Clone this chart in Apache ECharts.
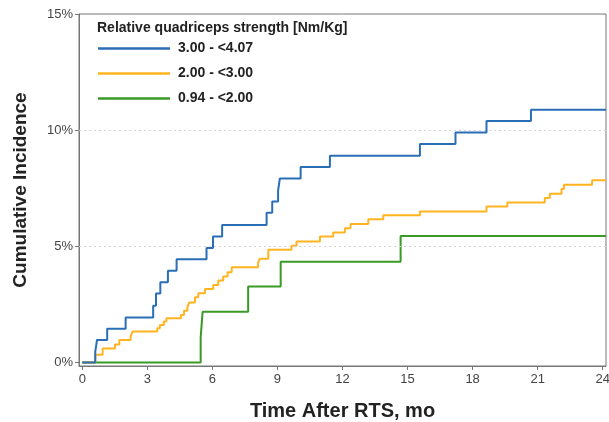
<!DOCTYPE html>
<html>
<head>
<meta charset="utf-8">
<script src="https://cdn.jsdelivr.net/npm/echarts@6/dist/echarts.min.js"></script>
<style>
html,body{margin:0;padding:0;background:#fff;}
#chart{width:609px;height:422px;}
</style>
</head>
<body>
<div id="chart"></div>
<script>
// Data (months after RTS, cumulative incidence %)
var seriesNames = ['3.00 - <4.07', '2.00 - <3.00', '0.94 - <2.00'];
var legendTitle = 'Relative quadriceps strength [Nm/Kg]';

var blueX = [0, 0.6, 0.68, 1.15, 2.0, 3.27, 3.4, 3.6, 3.95, 4.35, 5.73, 6.03, 6.45, 8.5, 8.76, 9.03, 9.11, 10.07, 11.42, 15.57, 17.21, 18.64, 20.69, 24.15];
var blueY = [0, 0.47, 0.97, 1.45, 1.94, 2.44, 2.97, 3.45, 3.95, 4.44, 4.93, 5.42, 5.92, 6.45, 6.93, 7.4, 7.92, 8.41, 8.9, 9.4, 9.9, 10.4, 10.88, 10.88];

var orangeX = [0, 0.6, 0.94, 1.51, 1.71, 2.23, 2.32, 3.46, 3.58, 3.76, 3.88, 4.55, 4.69, 4.85, 4.93, 5.2, 5.35, 5.66, 6.04, 6.27, 6.5, 6.7, 6.89, 8.11, 8.19, 8.58, 9.65, 9.88, 10.96, 11.57, 12.11, 12.37, 13.19, 13.88, 15.57, 18.64, 19.6, 21.33, 21.56, 22.1, 22.21, 23.51, 24.15];
var orangeY = [0, 0.33, 0.6, 0.78, 0.97, 1.12, 1.33, 1.47, 1.62, 1.76, 1.9, 2.05, 2.23, 2.4, 2.58, 2.81, 2.98, 3.16, 3.34, 3.53, 3.7, 3.88, 4.1, 4.3, 4.47, 4.85, 5.03, 5.21, 5.42, 5.6, 5.78, 5.96, 6.17, 6.34, 6.5, 6.72, 6.89, 7.08, 7.26, 7.47, 7.65, 7.84, 7.84];

var greenX = [0, 5.46, 5.55, 7.65, 9.15, 14.68, 24.15];
var greenY = [0, 1.08, 2.18, 3.27, 4.34, 5.45, 5.45];

var xTicks = [0, 3, 6, 9, 12, 15, 18, 21, 24];
var yTicks = [0, 5, 10, 15];
var yGrid = [5, 10];

function pairs(xs, ys) { return xs.map(function (x, i) { return [x, ys[i]]; }); }

var FONT = 'Liberation Sans, Arial, sans-serif';
var colors = ['#2a6fb5', '#ffb420', '#3a9a26'];

var chart = echarts.init(document.getElementById('chart'), null, {renderer: 'canvas'});

var series = [
  {name: seriesNames[0], xs: blueX, ys: blueY, z: 5},
  {name: seriesNames[1], xs: orangeX, ys: orangeY, z: 4},
  {name: seriesNames[2], xs: greenX, ys: greenY, z: 3}
].map(function (s, i) {
  var o = {
    name: s.name,
    type: 'line',
    step: 'end',
    symbol: 'none',
    z: s.z,
    lineStyle: {color: colors[i], width: 2},
    itemStyle: {color: colors[i]},
    data: pairs(s.xs, s.ys),
    animation: false
  };
  if (i === 2) {
    o.markLine = {
      silent: true,
      symbol: 'none',
      label: {show: false},
      lineStyle: {color: '#d4d4d4', type: [2, 3], width: 1},
      data: yGrid.map(function (v) { return {yAxis: v}; }),
      animation: false
    };
  }
  return o;
});

chart.setOption({
  animation: false,
  title: {
    text: legendTitle,
    left: 92,
    top: 16,
    textStyle: {fontFamily: FONT, fontSize: 14, fontWeight: 'bold', color: '#222'}
  },
  legend: {
    orient: 'vertical',
    left: 93,
    top: 35,
    icon: 'rect',
    itemWidth: 72,
    itemHeight: 2.5,
    itemGap: 8,
    textStyle: {fontFamily: FONT, fontSize: 14, fontWeight: 'bold', color: '#222', padding: [0, 0, 0, 3], lineHeight: 17},
    data: seriesNames
  },
  grid: {
    left: 79, right: 3, top: 14, bottom: 56,
    outerBoundsMode: 'none',
    containLabel: false,
    show: true, borderColor: '#777', borderWidth: 1, backgroundColor: '#fff'
  },
  xAxis: {
    type: 'value',
    min: -0.15,
    max: 24.15,
    name: 'Time After RTS, mo',
    nameLocation: 'middle',
    nameGap: 35,
    nameTextStyle: {fontFamily: FONT, fontSize: 20, fontWeight: 'bold', color: '#222'},
    axisLine: {show: true, onZero: false, lineStyle: {color: '#777', width: 1}},
    axisTick: {show: true, customValues: xTicks, length: 4, lineStyle: {color: '#777'}},
    axisLabel: {customValues: xTicks, margin: 7, fontFamily: FONT, fontSize: 13, color: '#444', hideOverlap: false},
    splitLine: {show: false}
  },
  yAxis: {
    type: 'value',
    min: -0.15,
    max: 15,
    name: 'Cumulative Incidence',
    nameLocation: 'middle',
    nameGap: 49,
    nameTextStyle: {fontFamily: FONT, fontSize: 19, fontWeight: 'bold', color: '#222'},
    axisLine: {show: true, onZero: false, lineStyle: {color: '#777', width: 1}},
    axisTick: {show: true, customValues: yTicks, length: 4, lineStyle: {color: '#777'}},
    axisLabel: {customValues: yTicks, margin: 6, fontFamily: FONT, fontSize: 13, color: '#444',
      formatter: function (v) { return v + '%'; }},
    splitLine: {show: false}
  },
  series: series
});
</script>
</body>
</html>
